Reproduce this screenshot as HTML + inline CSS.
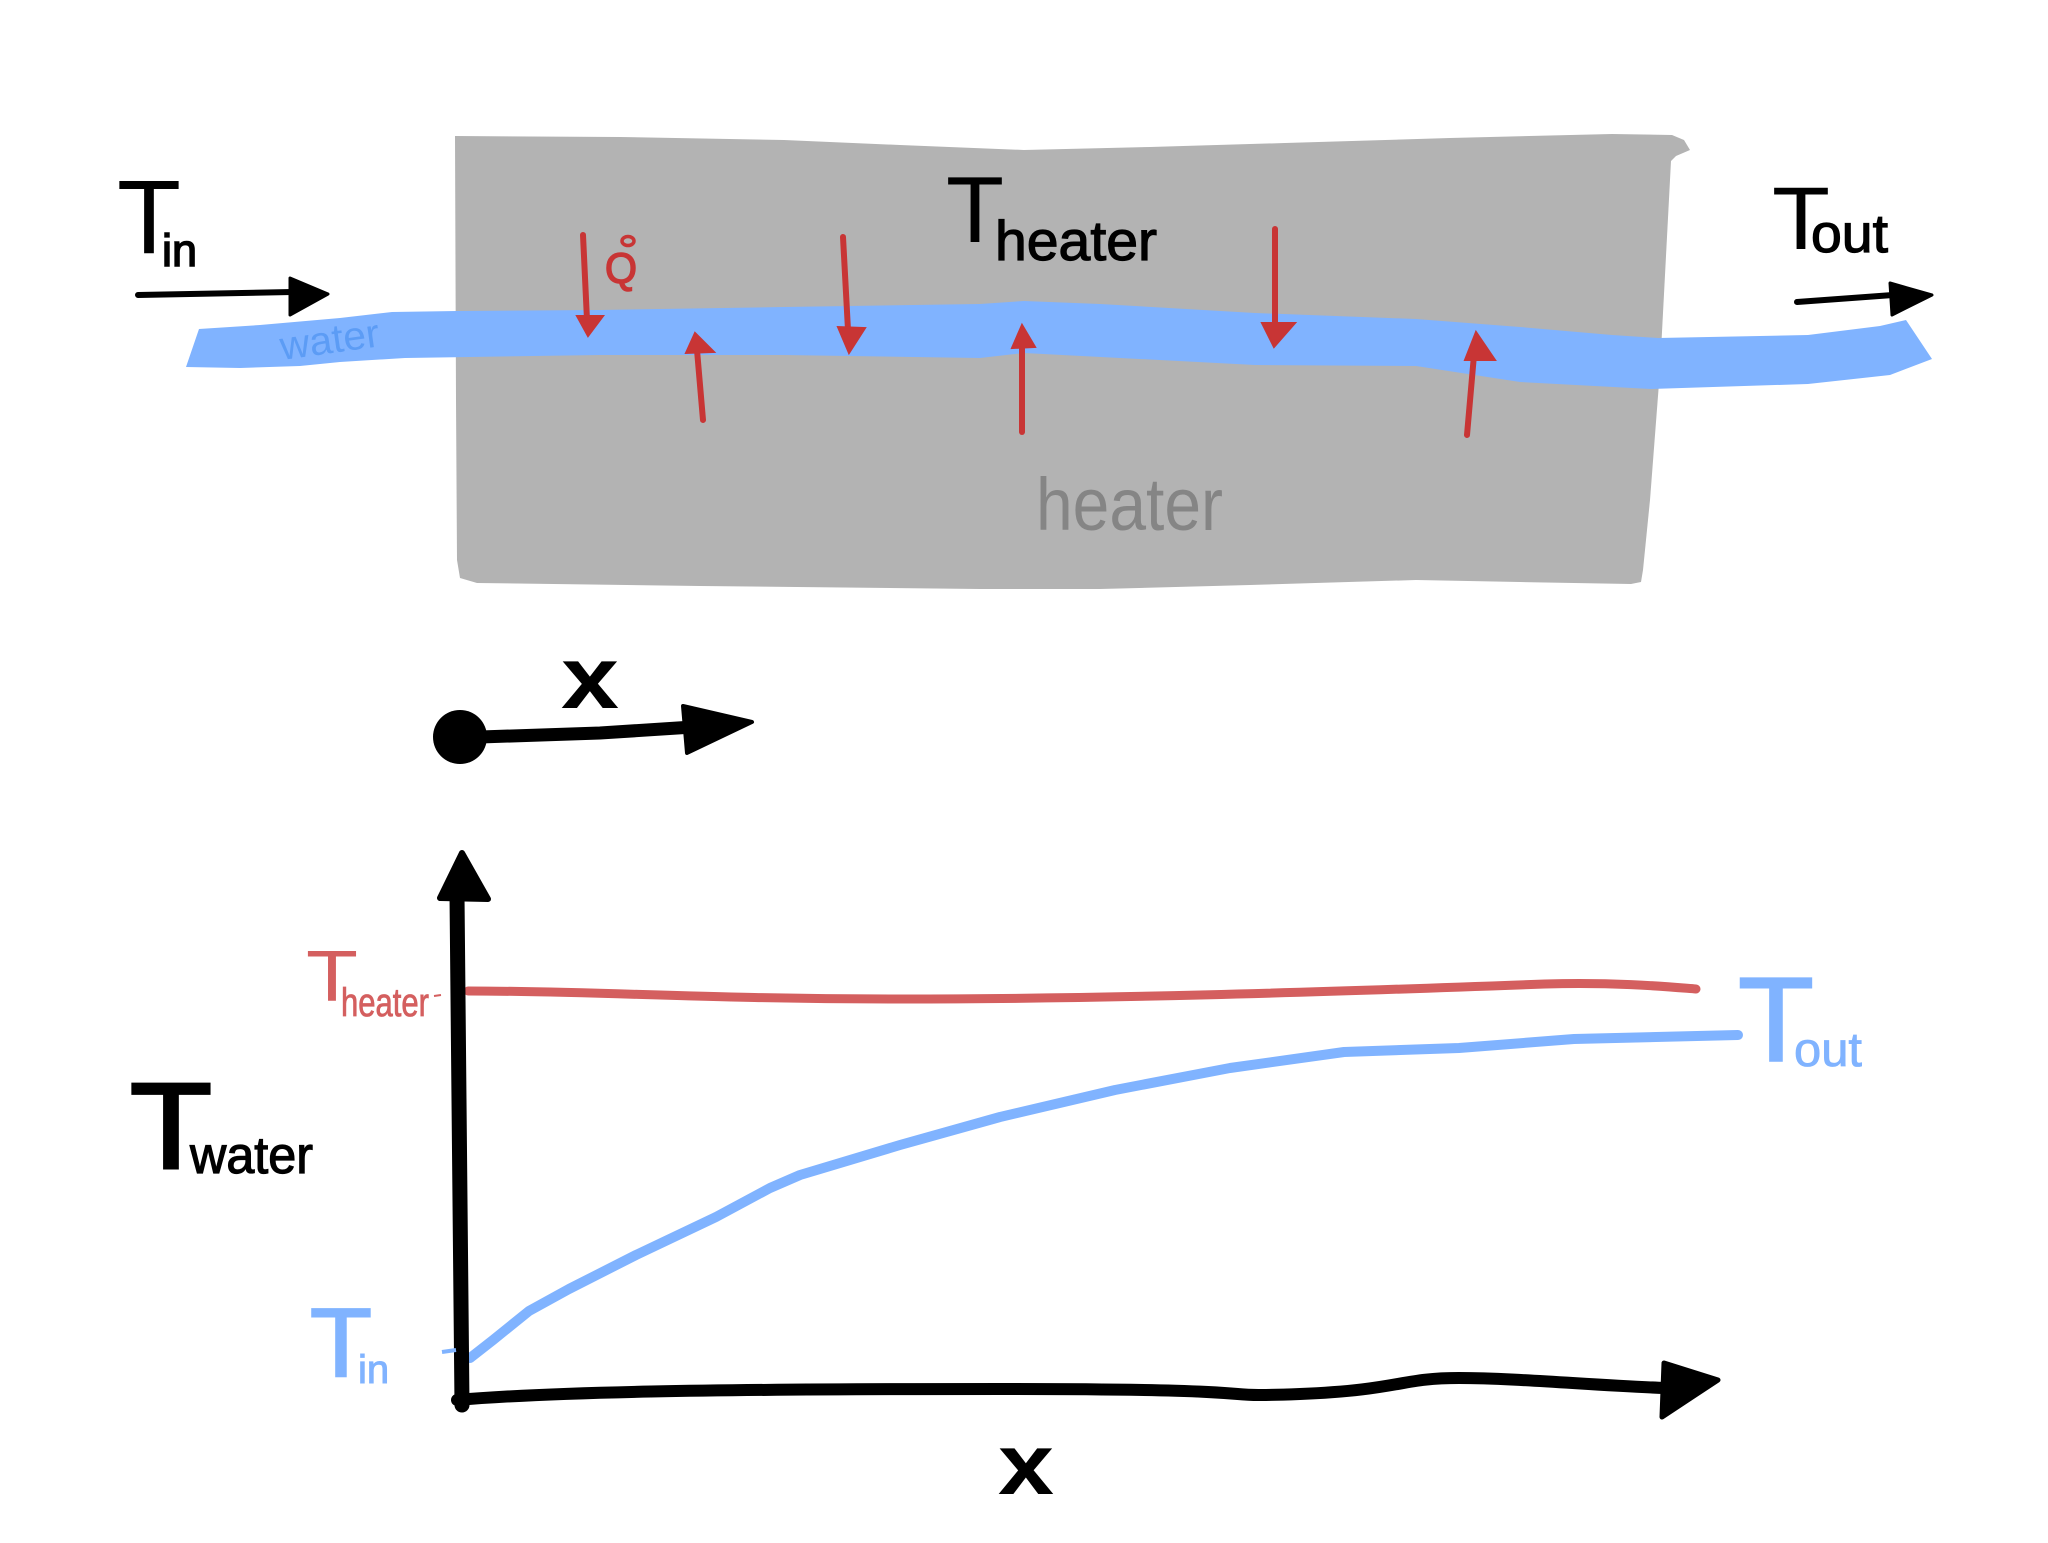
<!DOCTYPE html>
<html>
<head>
<meta charset="utf-8">
<style>
html,body{margin:0;padding:0;background:#fff;}
svg{display:block;}
text{font-family:"Liberation Sans",sans-serif;}
</style>
</head>
<body>
<svg width="2048" height="1543" viewBox="0 0 2048 1543" xmlns="http://www.w3.org/2000/svg">
<rect width="2048" height="1543" fill="#ffffff"/>

<!-- heater box -->
<path d="M455,136 L620,137 L784,140 L900,145 L1024,150 L1150,147 L1285,143 L1450,138 L1612,134 L1672,135 L1684,140 L1690,150 L1676,156 L1671,161 L1660,370 L1650,500 L1643,570 L1641,582 L1631,584 L1520,582 L1416,580 L1250,585 L1100,589 L980,589 L700,586 L477,583 L460,578 L457,560 L456,400 Z" fill="#b3b3b3"/>

<!-- water band -->
<path d="M199,329 L260,325 L340,318 L392,312 L457,311 L600,310 L784,307 L980,304 L1024,301 L1100,304 L1255,313 L1416,319 L1520,327 L1612,335 L1658,338 L1808,335 L1880,326 L1906,320 L1932,359 L1890,375 L1808,384 L1651,389 L1520,382 L1416,366 L1255,365 L1024,353 L980,358 L784,355 L600,355 L470,357 L405,358 L340,362 L300,366 L240,368 L186,367 Z" fill="#80b3ff"/>
<text x="282" y="360" font-size="40" fill="#5c9cf5" transform="rotate(-8 282 360)" textLength="100" lengthAdjust="spacingAndGlyphs">water</text>

<!-- red heat arrows -->
<g stroke="#c83535" stroke-width="6" stroke-linecap="round" fill="#c83535">
  <line x1="583" y1="235" x2="587" y2="320"/>
  <polygon points="588,336 577,316 603,316" stroke-width="2"/>
  <line x1="703" y1="420" x2="697" y2="350"/>
  <polygon points="695,333 686,353 714,352" stroke-width="2"/>
  <line x1="843" y1="237" x2="848" y2="330"/>
  <polygon points="849,353 838,327 865,328" stroke-width="2"/>
  <line x1="1022" y1="432" x2="1022" y2="345"/>
  <polygon points="1022,325 1012,348 1035,347" stroke-width="2"/>
  <line x1="1275" y1="229" x2="1275" y2="325"/>
  <polygon points="1274,347 1262,323 1295,323" stroke-width="2"/>
  <line x1="1467" y1="435" x2="1474" y2="355"/>
  <polygon points="1476,332 1465,360 1495,360" stroke-width="2"/>
</g>
<!-- Q dot -->
<text x="605" y="283" font-size="43" fill="#c83535" stroke="#c83535" stroke-width="1.5" textLength="32" lengthAdjust="spacingAndGlyphs">Q</text>
<ellipse cx="628" cy="241" rx="6" ry="4.5" fill="none" stroke="#c83535" stroke-width="3.5"/>

<!-- top labels -->
<text x="117" y="253" font-size="105" fill="#000" textLength="64" lengthAdjust="spacingAndGlyphs">T</text>
<text x="162" y="266" font-size="45" fill="#000" stroke="#000" stroke-width="1.5">in</text>
<line x1="138" y1="295" x2="292" y2="292" stroke="#000" stroke-width="6" stroke-linecap="round"/>
<polygon points="328,294 290,278 290,315" fill="#000" stroke="#000" stroke-width="3" stroke-linejoin="round"/>

<text x="946" y="242" font-size="94" fill="#000" textLength="58" lengthAdjust="spacingAndGlyphs">T</text>
<text x="995" y="260" font-size="56" fill="#000" stroke="#000" stroke-width="1.2" textLength="162" lengthAdjust="spacingAndGlyphs">heater</text>

<text x="1772" y="249" font-size="89" fill="#000" textLength="58" lengthAdjust="spacingAndGlyphs">T</text>
<text x="1811" y="252" font-size="54" fill="#000" stroke="#000" stroke-width="1.2" textLength="77" lengthAdjust="spacingAndGlyphs">out</text>
<line x1="1797" y1="302" x2="1893" y2="295" stroke="#000" stroke-width="6" stroke-linecap="round"/>
<polygon points="1932,295 1890,283 1892,315" fill="#000" stroke="#000" stroke-width="3" stroke-linejoin="round"/>

<text x="1036" y="530" font-size="74" fill="#858585" textLength="187" lengthAdjust="spacingAndGlyphs">heater</text>

<!-- middle x axis -->
<circle cx="460" cy="737" r="27" fill="#000"/>
<path d="M480,737 L600,733 L693,727" stroke="#000" stroke-width="13" fill="none" stroke-linecap="round"/>
<polygon points="752,722 683,706 687,753" fill="#000" stroke="#000" stroke-width="4" stroke-linejoin="round"/>
<text x="561" y="708" font-size="88" font-weight="bold" fill="#000" textLength="58" lengthAdjust="spacingAndGlyphs">x</text>

<!-- plot -->
<path d="M468,991 C600,991 700,999 900,999 C1100,999 1300,993 1545,984 C1620,982 1670,987 1696,989" stroke="#d45f5f" stroke-width="9" fill="none" stroke-linecap="round" stroke-linejoin="round"/>
<polyline points="470,1358 493,1340 529,1311 569,1289 636,1255 716,1217 770,1188 800,1175 900,1145 1000,1117 1115,1090 1230,1068 1344,1052 1459,1048 1574,1039 1738,1035" stroke="#80b3ff" stroke-width="10" fill="none" stroke-linecap="round" stroke-linejoin="round"/>

<!-- y axis -->
<path d="M457,895 L459,1100 L462,1405" stroke="#000" stroke-width="15" fill="none" stroke-linecap="round"/>
<polygon points="462,853 440,898 488,899" fill="#000" stroke="#000" stroke-width="6" stroke-linejoin="round"/>
<!-- x axis -->
<path d="M457,1400 C550,1392 700,1389 1000,1389 S 1200,1398 1300,1394 S 1400,1378 1459,1378 S 1600,1386 1666,1388" stroke="#000" stroke-width="12" fill="none" stroke-linecap="round" stroke-linejoin="round"/>
<polygon points="1718,1380 1664,1363 1662,1417" fill="#000" stroke="#000" stroke-width="5" stroke-linejoin="round"/>

<!-- plot labels -->
<text x="306" y="1001" font-size="72" fill="#d45f5f" textLength="52" lengthAdjust="spacingAndGlyphs">T</text>
<text x="341" y="1016" font-size="40" fill="#d45f5f" stroke="#d45f5f" stroke-width="0.8" textLength="88" lengthAdjust="spacingAndGlyphs">heater</text>
<line x1="434" y1="996" x2="441" y2="995" stroke="#d45f5f" stroke-width="2"/>

<text x="130" y="1168" font-size="122" fill="#000" stroke="#000" stroke-width="3" textLength="82" lengthAdjust="spacingAndGlyphs">T</text>
<text x="190" y="1173" font-size="52" fill="#000" stroke="#000" stroke-width="1.2" textLength="123" lengthAdjust="spacingAndGlyphs">water</text>

<text x="310" y="1376" font-size="97" fill="#80b3ff" stroke="#80b3ff" stroke-width="2" textLength="62" lengthAdjust="spacingAndGlyphs">T</text>
<text x="358" y="1383" font-size="40" fill="#80b3ff" stroke="#80b3ff" stroke-width="1">in</text>
<line x1="442" y1="1352" x2="456" y2="1350" stroke="#80b3ff" stroke-width="4"/>

<text x="1738" y="1061" font-size="120" fill="#80b3ff" stroke="#80b3ff" stroke-width="2" textLength="76" lengthAdjust="spacingAndGlyphs">T</text>
<text x="1794" y="1066" font-size="48" fill="#80b3ff" stroke="#80b3ff" stroke-width="0.8" textLength="68" lengthAdjust="spacingAndGlyphs">out</text>

<text x="998" y="1494" font-size="86" font-weight="bold" fill="#000" textLength="56" lengthAdjust="spacingAndGlyphs">x</text>
</svg>
</body>
</html>
